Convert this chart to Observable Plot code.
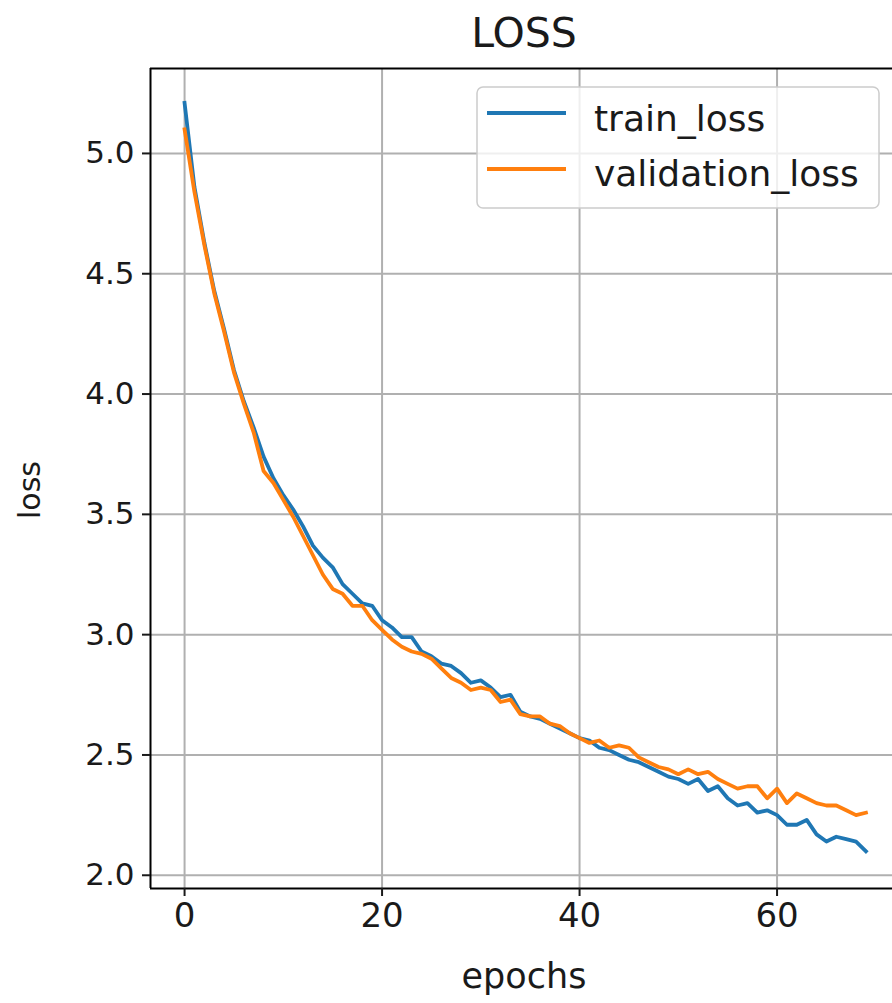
<!DOCTYPE html>
<html>
<head>
<meta charset="utf-8">
<script src="https://cdn.jsdelivr.net/npm/d3@7"></script>
<script src="https://cdn.jsdelivr.net/npm/@observablehq/plot@0.6"></script>
<style>
  html, body { margin: 0; padding: 0; background: #fff; overflow: hidden; }
  #chart { width: 892px; height: 1003px; }
</style>
</head>
<body>
<div id="chart"></div>
<script>
// ---- data ----
const trainLoss = [5.21, 4.86, 4.63, 4.43, 4.27, 4.10, 3.97, 3.86, 3.74, 3.65,
  3.58, 3.52, 3.45, 3.37, 3.32, 3.28, 3.21, 3.17, 3.13, 3.12,
  3.06, 3.03, 2.99, 2.99, 2.93, 2.91, 2.88, 2.87, 2.84, 2.80,
  2.81, 2.78, 2.74, 2.75, 2.68, 2.66, 2.65, 2.63, 2.61, 2.59,
  2.57, 2.56, 2.53, 2.52, 2.50, 2.48, 2.47, 2.45, 2.43, 2.41,
  2.40, 2.38, 2.40, 2.35, 2.37, 2.32, 2.29, 2.30, 2.26, 2.27,
  2.25, 2.21, 2.21, 2.23, 2.17, 2.14, 2.16, 2.15, 2.14, 2.10];
const validationLoss = [5.10, 4.84, 4.62, 4.42, 4.26, 4.09, 3.96, 3.84, 3.68, 3.63,
  3.56, 3.49, 3.41, 3.33, 3.25, 3.19, 3.17, 3.12, 3.12, 3.06,
  3.02, 2.98, 2.95, 2.93, 2.92, 2.90, 2.86, 2.82, 2.80, 2.77,
  2.78, 2.77, 2.72, 2.73, 2.67, 2.66, 2.66, 2.63, 2.62, 2.59,
  2.57, 2.55, 2.56, 2.53, 2.54, 2.53, 2.49, 2.47, 2.45, 2.44,
  2.42, 2.44, 2.42, 2.43, 2.40, 2.38, 2.36, 2.37, 2.37, 2.32,
  2.36, 2.30, 2.34, 2.32, 2.30, 2.29, 2.29, 2.27, 2.25, 2.26];
const seriesNames = ["train_loss", "validation_loss"];
const seriesColors = ["#1f77b4", "#ff7f0e"];
const xTicks = [0, 20, 40, 60];
const yTicks = [2.0, 2.5, 3.0, 3.5, 4.0, 4.5, 5.0];
const titleText = "LOSS";
const xLabel = "epochs";
const yLabel = "loss";

// long-format table
const rows = [];
[trainLoss, validationLoss].forEach((arr, s) =>
  arr.forEach((v, i) => rows.push({epoch: i, loss: v, series: seriesNames[s]})));

const xDomain = [-3.45, 71.69];
const yDomain = [1.945, 5.353];
const font = "DejaVu Sans, Liberation Sans, sans-serif";

const svg = Plot.plot({
  width: 892,
  height: 1003,
  marginTop: 68,
  marginBottom: 115,
  marginLeft: 150,
  marginRight: 0,
  style: {fontFamily: font, fontSize: "34px", color: "#1a1a1a", background: "#fff", overflow: "visible"},
  x: {domain: xDomain},
  y: {domain: yDomain},
  color: {domain: seriesNames, range: seriesColors},
  marks: [
    Plot.gridX(xTicks, {stroke: "#b0b0b0", strokeOpacity: 1, strokeWidth: 2}),
    Plot.gridY(yTicks, {stroke: "#b0b0b0", strokeOpacity: 1, strokeWidth: 2}),
    Plot.line(rows, {x: "epoch", y: "loss", z: "series", stroke: "series", strokeWidth: 3.8,
      strokeLinejoin: "round", strokeLinecap: "square"}),
    Plot.ruleY(yDomain, {stroke: "#000", strokeWidth: 2}),
    Plot.ruleX([xDomain[0]], {stroke: "#000", strokeWidth: 2}),
    Plot.axisX(xTicks, {tickSize: 8, tickPadding: 6, tickFormat: d => String(d), strokeWidth: 2, label: null}),
    Plot.axisY(yTicks, {tickSize: 8, tickPadding: 8, tickFormat: d => d.toFixed(1), strokeWidth: 2,
      fontSize: 31, label: null})
  ]
});

const s = d3.select(svg);
// title
s.append("text").attr("x", 524).attr("y", 47).attr("text-anchor", "middle")
  .attr("font-family", font).attr("font-size", 41).attr("fill", "#1a1a1a").text(titleText);
// axis labels
s.append("text").attr("x", 524).attr("y", 988).attr("text-anchor", "middle")
  .attr("font-family", font).attr("font-size", 35).attr("fill", "#1a1a1a").text(xLabel);
s.append("text").attr("transform", "translate(40,490) rotate(-90)").attr("text-anchor", "middle")
  .attr("font-family", font).attr("font-size", 30).attr("fill", "#1a1a1a").text(yLabel);

// legend
const lg = s.append("g");
lg.append("rect").attr("x", 477).attr("y", 87).attr("width", 402).attr("height", 121)
  .attr("rx", 6).attr("fill", "#fff").attr("fill-opacity", 0.8)
  .attr("stroke", "#cccccc").attr("stroke-width", 1.5);
const legendY = [113, 169];
const legendBase = [131, 186];
seriesNames.forEach((name, i) => {
  lg.append("line").attr("x1", 487).attr("x2", 566).attr("y1", legendY[i]).attr("y2", legendY[i])
    .attr("stroke", seriesColors[i]).attr("stroke-width", 3.8);
  lg.append("text").attr("x", 594).attr("y", legendBase[i]).attr("text-anchor", "start")
    .attr("font-family", font).attr("font-size", 36).attr("fill", "#1a1a1a").text(name);
});

document.getElementById("chart").appendChild(svg);
</script>
</body>
</html>
